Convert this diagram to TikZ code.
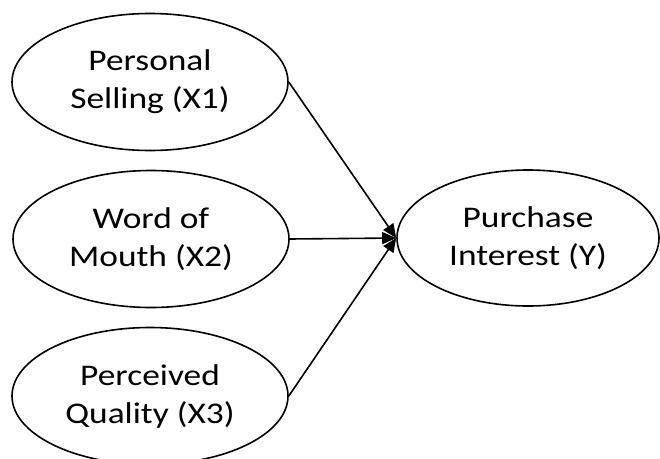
\documentclass[tikz,border=0pt]{standalone}
\usepackage{fontspec}
\setmainfont{Carlito}[FakeStretch=1.18]
\usetikzlibrary{shapes.geometric,arrows.meta}
\tikzset{
  latent/.style={ellipse, draw, line width=1.6pt, inner sep=0pt,
    minimum width=276pt, minimum height=137pt, align=center,
    font=\fontsize{30}{38}\selectfont},
  path/.style={line width=1.6pt, -{Triangle[length=14pt,width=12pt]}}
}
\begin{document}
\begin{tikzpicture}[x=1pt,y=-1pt]
\useasboundingbox (0,0) rectangle (660,458);
\node[latent] (x1) at (150,82) {Personal\\Selling (X1)};
\node[latent] (x2) at (151,239) {Word of\\Mouth (X2)};
\node[latent] (x3) at (150,396) {Perceived\\Quality (X3)};
\node[latent, minimum width=262pt, minimum height=136pt] (y) at (528,238) {Purchase\\Interest (Y)};
\draw[path] (x1.east) -- (y.west);
\draw[path] (x2.east) -- (y.west);
\draw[path] (x3.east) -- (y.west);
\end{tikzpicture}
\end{document}
